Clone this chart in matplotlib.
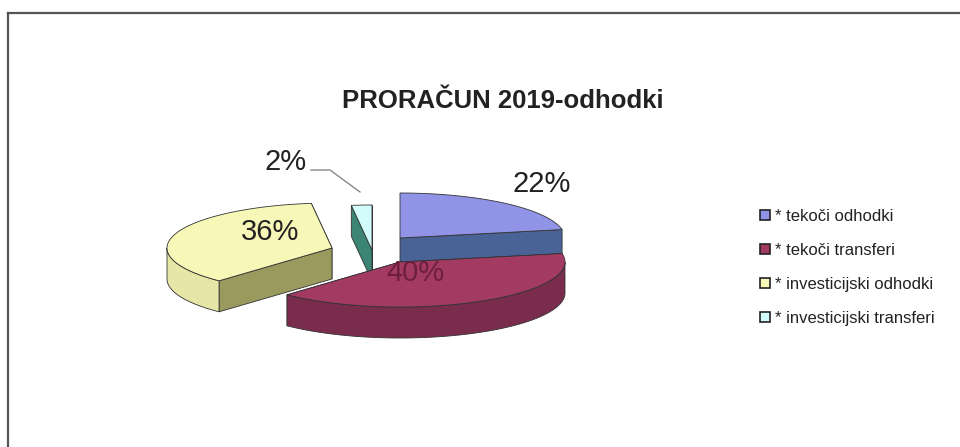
import numpy as np
import matplotlib
matplotlib.use("Agg")
import matplotlib.pyplot as plt
from matplotlib.patches import Polygon
from matplotlib.lines import Line2D

# --- data ---
categories = ["tekoči odhodki", "tekoči transferi", "investicijski odhodki", "investicijski transferi"]
shares = [22, 40, 36, 2]
title = "PRORAČUN 2019-odhodki"

# --- style ---
top_colors = ["#9193E6", "#A23A62", "#F7F7B8", "#D2FBFB"]
wall_colors = ["#4A6396", "#7A2C4C", "#E6E6A6", "#9FD8D8"]
radial_colors = ["#4A6396", "#7A2C4C", "#9A9A5E", "#3C8474"]
offsets = [(0, -4), (0, 20), (-68, 6), (-28, 8)]  # explode, pixels
draw_order = [3, 0, 2, 1]
label_pos = [(542, 184), (415, 273), (270, 232), (286, 162)]
label_colors = ["#222222", "#6E1E3E", "#222222", "#222222"]

CX, CY, RX, RY, DEPTH = 400, 242, 165, 45, 31

plt.rcParams["font.family"] = ["Liberation Sans", "DejaVu Sans"]
fig = plt.figure(figsize=(9.6, 4.47), dpi=100)
ax = fig.add_axes([0, 0, 1, 1])
ax.set_xlim(0, 960)
ax.set_ylim(447, 0)
ax.axis("off")

# frame lines (top and left only, like the scan)
ax.plot([8, 960], [13, 13], color="#555555", lw=1.6)
ax.plot([8, 8], [13, 447], color="#555555", lw=1.6)


def rim(cx, cy, a, dz=0):
    r = np.radians(a)
    return cx + RX * np.cos(r), cy - RY * np.sin(r) + dz


def arc(cx, cy, a0, a1, dz=0):
    angs = np.linspace(a0, a1, max(int(abs(a1 - a0)), 2) + 1)
    return [rim(cx, cy, a, dz) for a in angs]


# angles: start at 90 deg, go clockwise
bounds = []
start = 90.0
for v in shares:
    end = start - v / sum(shares) * 360
    bounds.append((start, end))
    start = end

edge = dict(edgecolor="#333333", linewidth=0.6)
for i in draw_order:
    a0, a1 = bounds[i]
    cx, cy = CX + offsets[i][0], CY + offsets[i][1]
    # radial walls
    walls = []
    for a in (a0, a1):
        p = rim(cx, cy, a)
        walls.append([(cx, cy), p, (p[0], p[1] + DEPTH), (cx, cy + DEPTH)])
    walls.sort(key=lambda w: w[1][1] + w[0][1])
    for w in walls:
        ax.add_patch(Polygon(w, closed=True, facecolor=radial_colors[i], **edge))
    # front part of outer wall (sin < 0)
    lo, hi = min(a0, a1), max(a0, a1)
    front = []
    for k in range(-1, 2):
        s, e = max(lo, -180 + 360 * k), min(hi, 0 + 360 * k)
        if e > s:
            front.append((s, e))
    for s, e in front:
        pts = arc(cx, cy, s, e) + arc(cx, cy, e, s, DEPTH)
        ax.add_patch(Polygon(pts, closed=True, facecolor=wall_colors[i], **edge))
    # top face
    pts = [(cx, cy)] + arc(cx, cy, a0, a1)
    ax.add_patch(Polygon(pts, closed=True, facecolor=top_colors[i], **edge))

for i, v in enumerate(shares):
    ax.text(label_pos[i][0], label_pos[i][1], f"{v}%", fontsize=21,
            color=label_colors[i], ha="center", va="center")

# leader line for the small slice
ax.plot([311, 330, 360], [170, 170, 192], color="#888888", lw=1.0)

ax.text(503, 101, title, fontsize=18.5, fontweight="bold", color="#222222",
        ha="center", va="center")

handles = [Line2D([], [], marker="s", linestyle="none", markersize=6.5,
                  markerfacecolor=top_colors[i], markeredgecolor="#222222",
                  markeredgewidth=1.2) for i in range(len(categories))]
leg = ax.legend(handles, ["* " + c for c in categories],
                loc="upper left", bbox_to_anchor=(753 / 960, 1 - 202 / 447),
                frameon=False, handlelength=0.6, handletextpad=0.3,
                labelspacing=1.15, borderaxespad=0,
                prop={"size": 12})
for t in leg.get_texts():
    t.set_color("#222222")

fig.savefig("out.png", dpi=100, facecolor="white")
